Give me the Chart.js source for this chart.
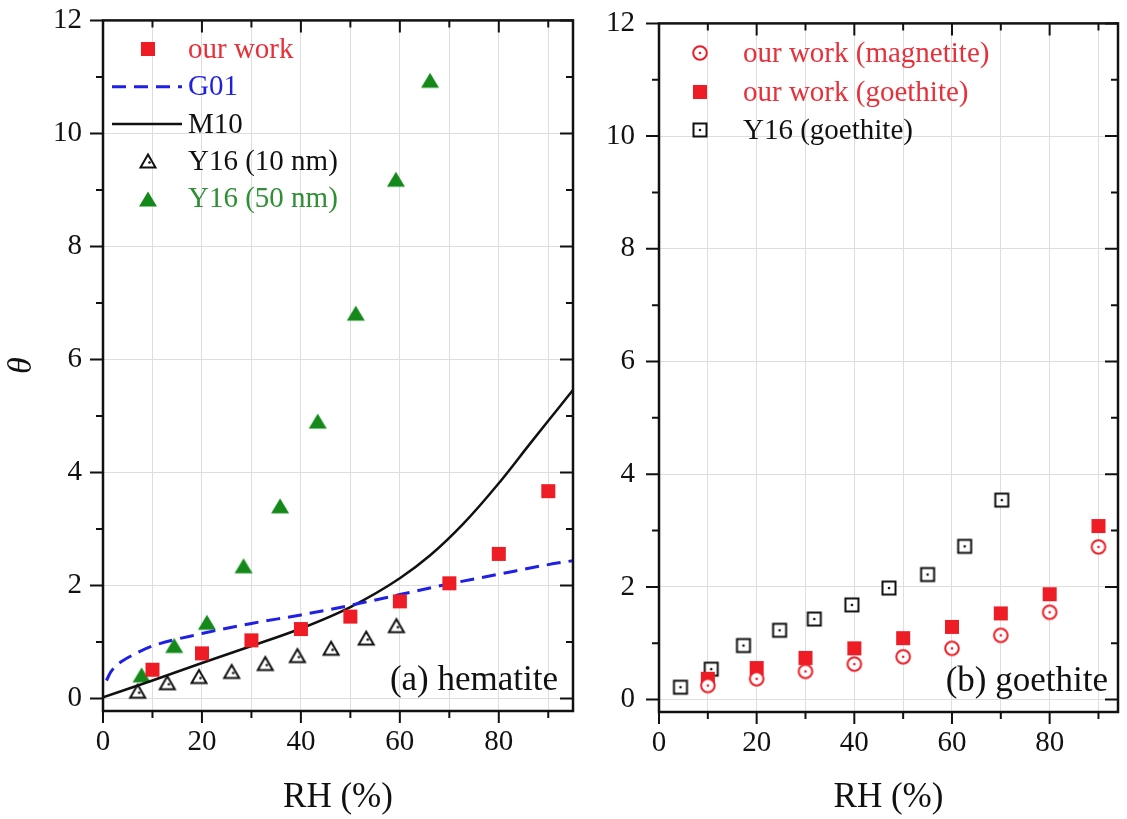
<!DOCTYPE html>
<html lang="en">
<head>
<meta charset="UTF-8">
<title>Water coverage θ vs RH</title>
<script src="https://cdn.jsdelivr.net/npm/chart.js"></script>
<style>
  body { margin: 0; background: #fff; overflow: hidden; }
  #wrap { position: relative; width: 1127px; height: 819px; overflow: hidden; }
  /* canvases start above the page so the plot frames sit 20px from the top */
  #chartA { position: absolute; left: 0; top: -18px; }
  #chartB { position: absolute; left: 590px; top: -18px; }
</style>
</head>
<body>
<div id="wrap">
  <canvas id="chartA" width="590" height="837"></canvas>
  <canvas id="chartB" width="537" height="837"></canvas>
</div>
<script>
// (a) hematite
const hemRH = [10, 20, 30, 40, 50, 60, 70, 80, 90];
const hemTheta = [0.51, 0.80, 1.03, 1.23, 1.45, 1.72, 2.04, 2.56, 3.67];
const g01RH = [0.7, 1.5, 2.5, 4, 6, 10, 20, 30, 40, 50, 60, 70, 80, 90, 95];
const g01Theta = [0.32, 0.46, 0.57, 0.67, 0.77, 0.93, 1.15, 1.33, 1.48, 1.65, 1.84, 2.03, 2.20, 2.37, 2.44];
const m10RH = [0, 10, 20, 30, 40, 50, 60, 66.2, 72.9, 80, 86.4, 91.8, 95];
const m10Theta = [0.02, 0.32, 0.63, 0.93, 1.24, 1.62, 2.13, 2.54, 3.10, 3.81, 4.52, 5.11, 5.46];
const y16SmallRH = [7.0, 13.0, 19.4, 26.0, 32.8, 39.3, 46.1, 53.2, 59.3];
const y16SmallTheta = [0.13, 0.28, 0.39, 0.48, 0.62, 0.76, 0.89, 1.07, 1.29];
const y16LargeRH = [7.8, 14.4, 21.0, 28.4, 35.8, 43.4, 51.1, 59.2, 66.1];
const y16LargeTheta = [0.42, 0.94, 1.35, 2.35, 3.41, 4.91, 6.82, 9.19, 10.94];

// (b) goethite
const goeRH = [10, 20, 30, 40, 50, 60, 70, 80, 90];
const magTheta = [0.25, 0.37, 0.50, 0.63, 0.76, 0.91, 1.14, 1.55, 2.71];
const goeTheta = [0.37, 0.56, 0.74, 0.91, 1.09, 1.29, 1.53, 1.87, 3.08];
const y16GoeRH = [4.4, 10.7, 17.3, 24.7, 31.8, 39.5, 47.1, 55.0, 62.6, 70.2];
const y16GoeTheta = [0.22, 0.54, 0.96, 1.23, 1.43, 1.68, 1.98, 2.22, 2.72, 3.54];

const RED = '#ee1c24';
const RED_TXT = '#e8303a';
const GREEN = '#14891a';
const GREEN_TXT = '#2f8f35';
const BLUE = '#1f1fe6';
const INK = '#111111';
const GRID = '#dedede';

Chart.defaults.font.family = '"Liberation Serif", "Times New Roman", serif';
Chart.defaults.color = INK;

const pts = (xs, ys) => xs.map((x, i) => ({ x, y: ys[i] }));

// small canvases used as point styles (and reused by the legend)
function marker(size, draw) {
  const c = document.createElement('canvas');
  c.width = c.height = size;
  draw(c.getContext('2d'), size / 2);
  return c;
}
const dot = (g, m, col) => { g.fillStyle = col; g.beginPath(); g.arc(m, m, 1.3, 0, Math.PI * 2); g.fill(); };

const redSquare = marker(16, (g, m) => { g.fillStyle = RED; g.fillRect(m - 7, m - 7, 14, 14); });
const greenTri = marker(22, (g, m) => {
  g.fillStyle = GREEN;
  g.beginPath(); g.moveTo(m, m - 7.5); g.lineTo(m + 9, m + 7.5); g.lineTo(m - 9, m + 7.5); g.closePath(); g.fill();
});
const openTri = marker(22, (g, m) => {
  g.fillStyle = '#fff'; g.strokeStyle = INK; g.lineWidth = 2;
  g.beginPath(); g.moveTo(m, m - 6.5); g.lineTo(m + 7.5, m + 6.5); g.lineTo(m - 7.5, m + 6.5); g.closePath();
  g.fill(); g.stroke();
  dot(g, m + 1.5, INK);
});
const openCircle = marker(20, (g, m) => {
  g.fillStyle = '#fff'; g.strokeStyle = RED; g.lineWidth = 2;
  g.beginPath(); g.arc(m, m, 6.8, 0, Math.PI * 2); g.fill(); g.stroke();
  dot(g, m, RED);
});
const openSquare = marker(18, (g, m) => {
  g.fillStyle = '#fff'; g.strokeStyle = INK; g.lineWidth = 2;
  g.fillRect(m - 6.5, m - 6.5, 13, 13); g.strokeRect(m - 6.5, m - 6.5, 13, 13);
  dot(g, m, INK);
});

// box with inward ticks on top/right, outward on bottom/left
const framePlugin = {
  id: 'frame',
  afterDraw(chart) {
    const { ctx, chartArea: a, scales: { x, y } } = chart;
    ctx.save();
    ctx.strokeStyle = INK;
    ctx.lineWidth = 2;
    ctx.beginPath();
    for (let v = 0; v <= x.max; v += 10) {
      const px = x.getPixelForValue(v);
      const len = v % 20 === 0 ? 12 : 7;
      ctx.moveTo(px, a.bottom); ctx.lineTo(px, a.bottom + len);
      ctx.moveTo(px, a.top); ctx.lineTo(px, a.top + len);
    }
    for (let v = 0; v <= y.max; v += 1) {
      const py = y.getPixelForValue(v);
      const len = v % 2 === 0 ? 13 : 7;
      ctx.moveTo(a.left, py); ctx.lineTo(a.left - len, py);
      ctx.moveTo(a.right, py); ctx.lineTo(a.right - len, py);
    }
    ctx.stroke();
    ctx.lineWidth = 2.5;
    ctx.strokeRect(a.left, a.top, a.right - a.left, a.bottom - a.top);
    ctx.restore();
  }
};

// legend in the upper-left corner plus the panel tag in the lower-right
const notesPlugin = {
  id: 'notes',
  afterDraw(chart, args, opts) {
    const { ctx, chartArea: a } = chart;
    ctx.save();
    ctx.font = '29px "Liberation Serif", "Times New Roman", serif';
    ctx.textBaseline = 'middle';
    ctx.textAlign = 'left';
    chart.data.datasets.forEach((ds, i) => {
      const cy = a.top + opts.y0 + i * opts.step;
      const cx = a.left + opts.mx;
      if (ds.showLine) {
        ctx.strokeStyle = ds.borderColor;
        ctx.lineWidth = ds.borderWidth;
        ctx.setLineDash(ds.borderDash || []);
        ctx.beginPath(); ctx.moveTo(cx - 36, cy); ctx.lineTo(cx + 34, cy); ctx.stroke();
        ctx.setLineDash([]);
      } else {
        const im = ds.pointStyle;
        ctx.drawImage(im, Math.round(cx - im.width / 2), Math.round(cy - im.height / 2));
      }
      ctx.fillStyle = ds.textColor;
      ctx.fillText(ds.label, a.left + opts.tx, cy + 1);
    });
    ctx.font = '35px "Liberation Serif", "Times New Roman", serif';
    ctx.textAlign = 'right';
    ctx.textBaseline = 'alphabetic';
    ctx.fillStyle = INK;
    ctx.fillText(opts.tag, a.right - opts.tagRight, a.bottom - 21);
    ctx.restore();
  }
};

function scalesFor(xMax, yTitle, xHeight, yWidth, yPad) {
  return {
    x: {
      type: 'linear', min: 0, max: xMax,
      ticks: {
        stepSize: 10, includeBounds: false, autoSkip: false, maxRotation: 0, padding: 14,
        font: { size: 29 }, color: INK,
        callback: v => (v % 20 === 0 ? v : '')
      },
      grid: { color: GRID, drawTicks: false },
      border: { display: false },
      title: { display: true, text: 'RH (%)', color: INK, font: { size: 35 }, padding: 0 },
      afterFit: s => { s.height = xHeight; }
    },
    y: {
      type: 'linear', min: -0.22, max: 12,
      ticks: {
        stepSize: 2, includeBounds: false, padding: yPad,
        font: { size: 29 }, color: INK,
        callback: v => (v % 2 === 0 ? v : '')
      },
      grid: { color: GRID, drawTicks: false },
      border: { display: false },
      title: { display: yTitle, text: 'θ', color: INK, font: { size: 34, style: 'italic' }, padding: { top: 2 } },
      afterFit: s => { s.width = yWidth; }
    }
  };
}

const common = {
  responsive: false,
  animation: false,
  plugins: { legend: { display: false }, tooltip: { enabled: false } }
};

new Chart(document.getElementById('chartA'), {
  type: 'scatter',
  data: {
    datasets: [
      { label: 'our work', data: pts(hemRH, hemTheta), pointStyle: redSquare, pointRadius: 8, textColor: RED_TXT },
      { label: 'G01', data: pts(g01RH, g01Theta), showLine: true, pointRadius: 0, borderColor: BLUE, borderWidth: 3,
        borderDash: [14, 8], cubicInterpolationMode: 'monotone', textColor: BLUE },
      { label: 'M10', data: pts(m10RH, m10Theta), showLine: true, pointRadius: 0, borderColor: INK, borderWidth: 2.5,
        cubicInterpolationMode: 'monotone', textColor: INK },
      { label: 'Y16 (10 nm)', data: pts(y16SmallRH, y16SmallTheta), pointStyle: openTri, pointRadius: 8, textColor: INK },
      { label: 'Y16 (50 nm)', data: pts(y16LargeRH, y16LargeTheta), pointStyle: greenTri, pointRadius: 9, textColor: GREEN_TXT }
    ]
  },
  options: {
    ...common,
    layout: { padding: { left: 0, right: 17, top: 2, bottom: 0 } },
    scales: scalesFor(95, true, 108, 103, 21),
    plugins: { ...common.plugins, notes: { mx: 45, tx: 85, y0: 29, step: 37.3, tag: '(a) hematite', tagRight: 15 } }
  },
  plugins: [framePlugin, notesPlugin]
});

new Chart(document.getElementById('chartB'), {
  type: 'scatter',
  data: {
    datasets: [
      { label: 'our work (magnetite)', data: pts(goeRH, magTheta), pointStyle: openCircle, pointRadius: 8, textColor: RED_TXT },
      { label: 'our work (goethite)', data: pts(goeRH, goeTheta), pointStyle: redSquare, pointRadius: 8, textColor: RED_TXT },
      { label: 'Y16 (goethite)', data: pts(y16GoeRH, y16GoeTheta), pointStyle: openSquare, pointRadius: 8, textColor: INK }
    ]
  },
  options: {
    ...common,
    layout: { padding: { left: 0, right: 5, top: 2, bottom: 0 } },
    scales: scalesFor(94, false, 107, 69, 24),
    plugins: { ...common.plugins, notes: { mx: 41, tx: 84, y0: 30, step: 38.5, tag: '(b) goethite', tagRight: 10 } }
  },
  plugins: [framePlugin, notesPlugin]
});
</script>
</body>
</html>
